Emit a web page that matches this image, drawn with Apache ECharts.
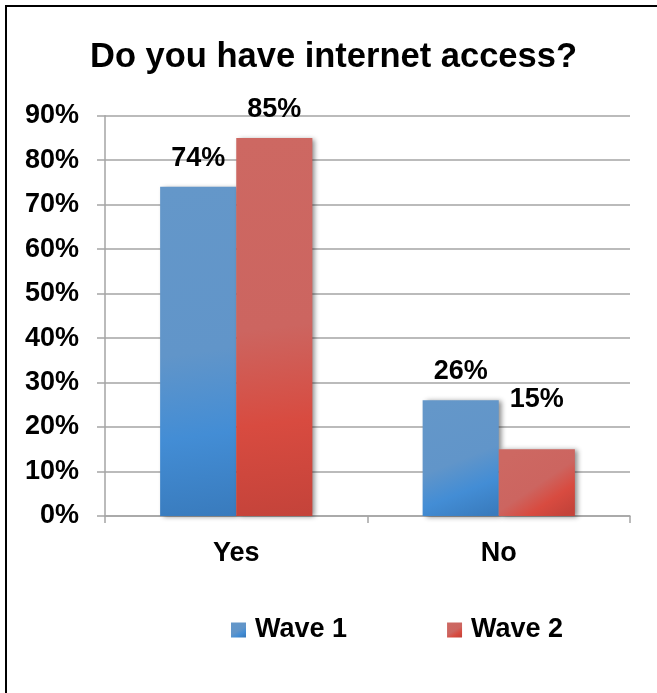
<!DOCTYPE html>
<html>
<head>
<meta charset="utf-8">
<script src="https://cdn.jsdelivr.net/npm/echarts@6/dist/echarts.min.js"></script>
<style>
html,body{margin:0;padding:0;background:#fff;}
#chart{width:657px;height:693px;}
</style>
</head>
<body>
<div id="chart"></div>
<script>
const titleText = 'Do you have internet access?';
const categories = ['Yes', 'No'];
const seriesNames = ['Wave 1', 'Wave 2'];
const wave1 = [74, 26];
const wave2 = [85, 15];
const yMin = 0, yMax = 90, yStep = 10;

const FONT = '"Liberation Sans", Arial, sans-serif';
const labelLift1 = [15, 15];
const labelLift2 = [15, 36];

function grad(c0, c1, c2, c3) {
  return {
    type: 'linear', x: 0.25, y: 0, x2: 0.85, y2: 1,
    colorStops: [
      { offset: 0, color: c0 },
      { offset: 0.5, color: c1 },
      { offset: 0.75, color: c2 },
      { offset: 1, color: c3 }
    ]
  };
}
const blue = grad('#6497c9', '#6195c9', '#438dd5', '#397bbd');
const red = grad('#cd6862', '#cc6560', '#d84b40', '#c4433a');

function mkData(vals, lifts) {
  return vals.map((v, i) => ({ value: v, label: { distance: lifts[i] } }));
}

const shadow = {
  shadowColor: 'rgba(0,0,0,0.45)', shadowBlur: 5, shadowOffsetX: 3, shadowOffsetY: 1
};

const chart = echarts.init(document.getElementById('chart'), null, { renderer: 'canvas' });
chart.setOption({
  backgroundColor: '#ffffff',
  animation: false,
  title: {
    text: titleText,
    left: 90, top: 40, padding: 0,
    textStyle: { fontFamily: FONT, fontSize: 34.5, fontWeight: 'bold', color: '#000' }
  },
  legend: {
    left: 231, top: 616.5, padding: 0,
    itemWidth: 15, itemHeight: 15, itemGap: 100,
    icon: 'rect',
    data: seriesNames,
    textStyle: { fontFamily: FONT, fontSize: 27, fontWeight: 'bold', color: '#000', padding: [0, 0, 0, 4] }
  },
  grid: { left: 105, right: 27, top: 115.7, bottom: 177, containLabel: false, outerBoundsMode: 'none' },
  xAxis: {
    type: 'category',
    data: categories,
    axisLine: { show: true, lineStyle: { color: '#a5a5a5', width: 1.5 } },
    axisTick: { show: true, alignWithLabel: false, length: 7, lineStyle: { color: '#a5a5a5', width: 1.5 } },
    axisLabel: { margin: 24, fontFamily: FONT, fontSize: 27, fontWeight: 'bold', color: '#000' },
    splitLine: { show: false }
  },
  yAxis: {
    type: 'value',
    min: yMin, max: yMax, interval: yStep,
    axisLine: { show: true, lineStyle: { color: '#a5a5a5', width: 1.5 } },
    axisTick: { show: true, length: 8, lineStyle: { color: '#a5a5a5', width: 1.5 } },
    axisLabel: { margin: 26, formatter: '{value}%', fontFamily: FONT, fontSize: 27, fontWeight: 'bold', color: '#000' },
    splitLine: { show: true, lineStyle: { color: '#a5a5a5', width: 1.5 } }
  },
  series: [
    {
      name: seriesNames[0], type: 'bar', data: mkData(wave1, labelLift1),
      barGap: '0%', barCategoryGap: '42%',
      itemStyle: Object.assign({ color: blue }, shadow),
      label: { show: true, position: 'top', formatter: '{c}%', fontFamily: FONT, fontSize: 27, fontWeight: 'bold', color: '#000' }
    },
    {
      name: seriesNames[1], type: 'bar', data: mkData(wave2, labelLift2),
      barGap: '0%', barCategoryGap: '42%',
      itemStyle: Object.assign({ color: red }, shadow),
      label: { show: true, position: 'top', formatter: '{c}%', fontFamily: FONT, fontSize: 27, fontWeight: 'bold', color: '#000' }
    }
  ],
  graphic: [
    {
      type: 'rect', silent: true, z: 100,
      shape: { x: 6, y: 6, width: 720, height: 720 },
      style: { fill: 'none', stroke: '#000', lineWidth: 2 }
    }
  ]
});
</script>
</body>
</html>
